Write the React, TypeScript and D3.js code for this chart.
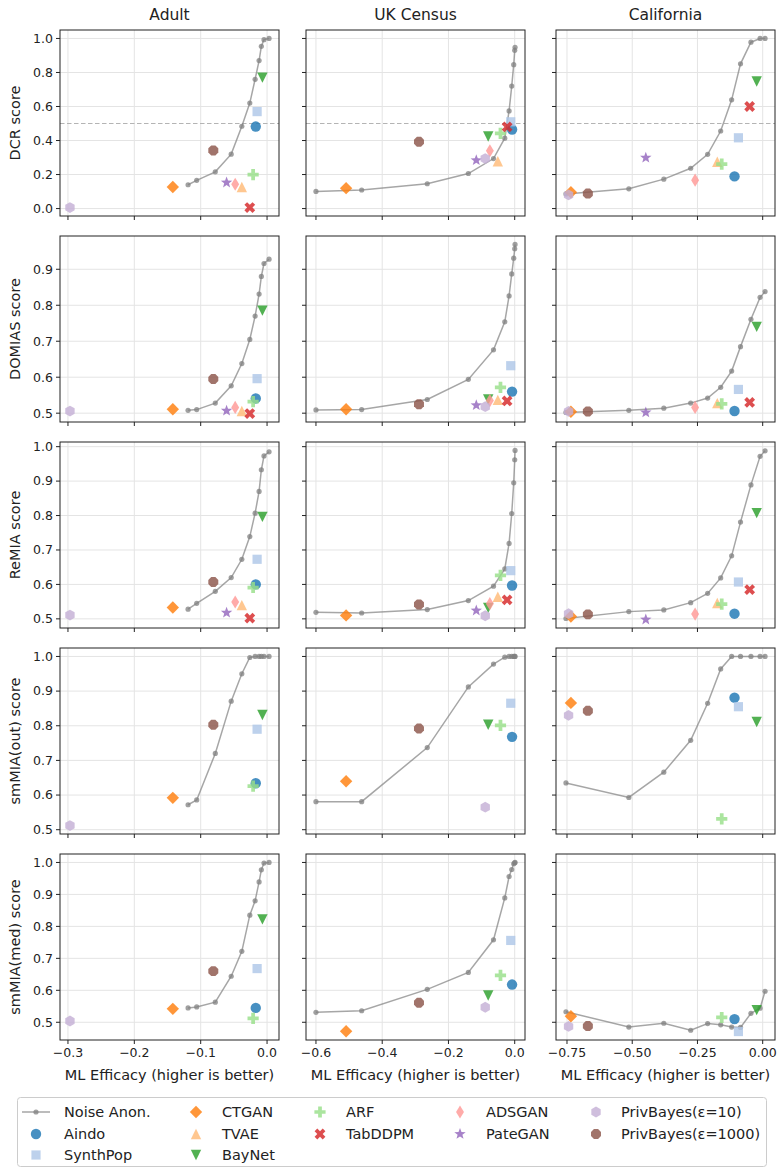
import * as d3 from 'd3';

const DATASETS = ['Adult', 'UK Census', 'California'];
const METRICS = ['DCR score', 'DOMIAS score', 'ReMIA score', 'smMIA(out) score', 'smMIA(med) score'];

const MODELS = ['Aindo', 'SynthPop', 'CTGAN', 'TVAE', 'BayNet', 'ARF', 'TabDDPM', 'ADSGAN', 'PateGAN', 'PrivBayes(ε=10)', 'PrivBayes(ε=1000)'];
const COLORS = ['#1f77b4', '#aec7e8', '#ff7f0e', '#ffbb78', '#2ca02c', '#98df8a', '#d62728', '#ff9896', '#9467bd', '#c5b0d5', '#8c564b'];
const MARKERS = ['o', 's', 'D', '^', 'v', 'P', 'X', 'd', '*', 'h', '8'];

// ML efficacy per model (order of MODELS)
const effAdult = [-0.017, -0.015, -0.142, -0.038, -0.007, -0.021, -0.026, -0.048, -0.061, -0.297, -0.081];
const effUK = [-0.008, -0.012, -0.509, -0.051, -0.080, -0.043, -0.023, -0.075, -0.116, -0.089, -0.289];
const effCal = [-0.108, -0.093, -0.735, -0.174, -0.023, -0.157, -0.050, -0.259, -0.448, -0.744, -0.670];

// ML efficacy along the noise sweep
const noiseEffAdult = [-0.119, -0.106, -0.078, -0.054, -0.038, -0.026, -0.018, -0.012, -0.0086, -0.0046, 0.003];
const noiseEffUK = [-0.600, -0.462, -0.264, -0.140, -0.064, -0.030, -0.017, -0.009, -0.003, 0.0, 0.001];
const noiseEffCal = [-0.754, -0.513, -0.379, -0.276, -0.211, -0.161, -0.119, -0.085, -0.045, -0.010, 0.009];

// DCR
const dcrNoiseAdult = [0.14, 0.166, 0.216, 0.32, 0.484, 0.62, 0.76, 0.87, 0.954, 0.993, 1.0];
const dcrNoiseUK = [0.101, 0.109, 0.146, 0.206, 0.294, 0.414, 0.574, 0.72, 0.846, 0.93, 0.948];
const dcrNoiseCal = [0.086, 0.116, 0.173, 0.237, 0.319, 0.456, 0.639, 0.851, 0.978, 1.0, 1.0];
const dcrAdult = [0.482, 0.570, 0.127, 0.127, 0.770, 0.200, 0.006, 0.143, 0.153, 0.006, 0.342];
const dcrUK = [0.465, 0.510, 0.120, 0.278, 0.424, 0.442, 0.480, 0.340, 0.284, 0.294, 0.393];
const dcrCal = [0.189, 0.416, 0.096, 0.275, 0.747, 0.261, 0.600, 0.167, 0.299, 0.080, 0.088];

// DOMIAS
const domiasNoiseAdult = [0.508, 0.51, 0.528, 0.576, 0.638, 0.705, 0.77, 0.831, 0.88, 0.916, 0.928];
const domiasNoiseUK = [0.509, 0.510, 0.538, 0.594, 0.676, 0.754, 0.826, 0.887, 0.931, 0.957, 0.969];
const domiasNoiseCal = [0.502, 0.508, 0.514, 0.528, 0.542, 0.572, 0.617, 0.685, 0.761, 0.822, 0.838];
const domiasAdult = [0.541, 0.596, 0.511, 0.506, 0.785, 0.532, 0.499, 0.516, 0.507, 0.506, 0.595];
const domiasUK = [0.560, 0.632, 0.511, 0.537, 0.538, 0.572, 0.534, 0.535, 0.522, 0.518, 0.525];
const domiasCal = [0.506, 0.566, 0.504, 0.528, 0.740, 0.526, 0.530, 0.516, 0.502, 0.505, 0.505];

// ReMIA
const remiaNoiseAdult = [0.528, 0.545, 0.58, 0.62, 0.673, 0.739, 0.807, 0.870, 0.933, 0.973, 0.985];
const remiaNoiseUK = [0.519, 0.517, 0.527, 0.553, 0.595, 0.645, 0.719, 0.806, 0.895, 0.962, 0.989];
const remiaNoiseCal = [0.501, 0.521, 0.526, 0.547, 0.574, 0.619, 0.683, 0.781, 0.889, 0.972, 0.988];
const remiaAdult = [0.600, 0.673, 0.533, 0.540, 0.796, 0.591, 0.502, 0.549, 0.518, 0.511, 0.607];
const remiaUK = [0.597, 0.640, 0.510, 0.564, 0.532, 0.626, 0.555, 0.544, 0.524, 0.509, 0.542];
const remiaCal = [0.515, 0.607, 0.507, 0.546, 0.807, 0.543, 0.585, 0.514, 0.498, 0.515, 0.513];

// smMIA(out) -- TVAE, TabDDPM, ADSGAN, PateGAN not evaluated
const outNoiseAdult = [0.572, 0.586, 0.720, 0.871, 0.950, 0.997, 1.0, 1.0, 1.0, 1.0, 1.0];
const outNoiseUK = [0.581, 0.581, 0.737, 0.912, 0.978, 0.998, 1.0, 1.0, 1.0, 1.0, 1.0];
const outNoiseCal = [0.635, 0.593, 0.666, 0.758, 0.865, 0.964, 1.0, 1.0, 1.0, 1.0, 1.0];
const outAdult = [0.634, 0.790, 0.592, null, 0.831, 0.626, null, null, null, 0.512, 0.803];
const outUK = [0.768, 0.865, 0.640, null, 0.803, 0.801, null, null, null, 0.565, 0.792];
const outCal = [0.881, 0.855, 0.866, null, 0.811, 0.531, null, null, null, 0.830, 0.843];

// smMIA(med)
const medNoiseAdult = [0.545, 0.548, 0.563, 0.644, 0.722, 0.835, 0.880, 0.939, 0.977, 0.998, 1.0];
const medNoiseUK = [0.531, 0.536, 0.603, 0.656, 0.758, 0.889, 0.956, 0.978, 0.996, 0.999, 1.0];
const medNoiseCal = [0.533, 0.485, 0.497, 0.475, 0.496, 0.492, 0.485, 0.484, 0.528, 0.544, 0.597];
const medAdult = [0.545, 0.668, 0.542, null, 0.822, 0.512, null, null, null, 0.504, 0.660];
const medUK = [0.618, 0.756, 0.472, null, 0.584, 0.647, null, null, null, 0.547, 0.561];
const medCal = [0.510, 0.471, 0.519, null, 0.538, 0.515, null, null, null, 0.487, 0.488];

const X_TICKS = [[-0.3, -0.2, -0.1, 0.0], [-0.6, -0.4, -0.2, 0.0], [-0.75, -0.5, -0.25, 0.0]];
const X_TICK_DIGITS = [1, 1, 2];
const Y_TICKS = [[0, 0.2, 0.4, 0.6, 0.8, 1.0], [0.5, 0.6, 0.7, 0.8, 0.9], [0.5, 0.6, 0.7, 0.8, 0.9, 1.0], [0.5, 0.6, 0.7, 0.8, 0.9, 1.0], [0.5, 0.6, 0.7, 0.8, 0.9, 1.0]];

const EFF = [effAdult, effUK, effCal];
const NOISE_EFF = [noiseEffAdult, noiseEffUK, noiseEffCal];
const SCORES = [[dcrAdult, dcrUK, dcrCal], [domiasAdult, domiasUK, domiasCal], [remiaAdult, remiaUK, remiaCal], [outAdult, outUK, outCal], [medAdult, medUK, medCal]];
const NOISE_SCORES = [[dcrNoiseAdult, dcrNoiseUK, dcrNoiseCal], [domiasNoiseAdult, domiasNoiseUK, domiasNoiseCal], [remiaNoiseAdult, remiaNoiseUK, remiaNoiseCal], [outNoiseAdult, outNoiseUK, outNoiseCal], [medNoiseAdult, medNoiseUK, medNoiseCal]];

const WIDTH = 783;
const HEIGHT = 1176;
const COL_X = [60, 306, 556];
const PANEL_W = 219;
const ROW_Y0 = 30;
const ROW_STEP = 206;
const PANEL_H = 186;
const FONT = 'DejaVu Sans, sans-serif';
const INK = '#222';
const LABEL_SIZE = 14.5;

const fmtMinus = (v: number, digits: number) => v.toFixed(digits).replace('-', '\u2212');

const poly = (pts: number[][]) => 'M' + pts.map((p) => `${p[0].toFixed(2)},${p[1].toFixed(2)}`).join('L') + 'Z';

const markerPath = (kind: string): string => {
  switch (kind) {
    case 'o':
      return d3.symbol(d3.symbolCircle, Math.PI * 5.2 * 5.2)() || '';
    case 's': {
      const r = 4.6;
      return poly([[-r, -r], [r, -r], [r, r], [-r, r]]);
    }
    case 'D': {
      const r = 6.2;
      return poly([[0, -r], [r, 0], [0, r], [-r, 0]]);
    }
    case '^': {
      const r = 5.2;
      return poly([[0, -r], [r, r], [-r, r]]);
    }
    case 'v': {
      const r = 5.2;
      return poly([[0, r], [r, -r], [-r, -r]]);
    }
    case 'P': {
      const k = 5.6 / 3;
      return poly([[-1, -3], [-1, -1], [-3, -1], [-3, 1], [-1, 1], [-1, 3], [1, 3], [1, 1], [3, 1], [3, -1], [1, -1], [1, -3]].map((p) => [p[0] * k, p[1] * k]));
    }
    case 'X': {
      const k = 5.4 / 2;
      return poly([[-1, -2], [0, -1], [1, -2], [2, -1], [1, 0], [2, 1], [1, 2], [0, 1], [-1, 2], [-2, 1], [-1, 0], [-2, -1]].map((p) => [p[0] * k, p[1] * k]));
    }
    case 'd': {
      const r = 6.6;
      return poly([[0, -r], [r * 0.6, 0], [0, r], [-r * 0.6, 0]]);
    }
    case '*': {
      const pts = d3.range(10).map((i) => {
        const a = -Math.PI / 2 + (i * Math.PI) / 5;
        const rr = i % 2 === 0 ? 6 : 2.5;
        return [rr * Math.cos(a), rr * Math.sin(a)];
      });
      return poly(pts);
    }
    case 'h': {
      const pts = d3.range(6).map((i) => {
        const a = -Math.PI / 2 + (i * Math.PI) / 3;
        return [5.4 * Math.cos(a), 5.4 * Math.sin(a)];
      });
      return poly(pts);
    }
    case '8': {
      const pts = d3.range(8).map((i) => {
        const a = Math.PI / 8 + (i * Math.PI) / 4;
        return [5.4 * Math.cos(a), 5.4 * Math.sin(a)];
      });
      return poly(pts);
    }
  }
  return '';
};

const extentPad = (vals: number[]) => {
  const [lo, hi] = d3.extent(vals) as [number, number];
  const pad = (hi - lo) * 0.05;
  return [lo - pad, hi + pad];
};

const Panel = ({ row, col }: { row: number; col: number }) => {
  const x0 = COL_X[col];
  const y0 = ROW_Y0 + row * ROW_STEP;

  const colVals = d3.merge([EFF[col], NOISE_EFF[col]]);
  const xScale = d3.scaleLinear().domain(extentPad(colVals)).range([0, PANEL_W]);

  const rowVals = d3.merge(
    [0, 1, 2].map((c) => [...NOISE_SCORES[row][c], ...(SCORES[row][c].filter((v) => v !== null) as number[])])
  );
  const yScale = d3.scaleLinear().domain(extentPad(rowVals)).range([PANEL_H, 0]);

  const noiseX = NOISE_EFF[col];
  const noiseY = NOISE_SCORES[row][col];
  const line = d3
    .line<number>()
    .x((_, i) => xScale(noiseX[i]))
    .y((d) => yScale(d));

  const scores = SCORES[row][col];
  const eff = EFF[col];

  return (
    <g transform={`translate(${x0},${y0})`}>
      {X_TICKS[col].map((t) => (
        <line key={`gx${t}`} x1={xScale(t)} x2={xScale(t)} y1={0} y2={PANEL_H} stroke="#e4e4e4" strokeWidth={1} />
      ))}
      {Y_TICKS[row].map((t) => (
        <line key={`gy${t}`} x1={0} x2={PANEL_W} y1={yScale(t)} y2={yScale(t)} stroke="#e4e4e4" strokeWidth={1} />
      ))}
      {row === 0 && (
        <line x1={0} x2={PANEL_W} y1={yScale(0.5)} y2={yScale(0.5)} stroke="#b4b4b4" strokeWidth={1.2} strokeDasharray="4.5,2.5" />
      )}
      <path d={line(noiseY) || ''} fill="none" stroke="gray" strokeOpacity={0.7} strokeWidth={1.5} />
      {noiseY.map((v, i) => (
        <circle key={`n${i}`} cx={xScale(noiseX[i])} cy={yScale(v)} r={2.6} fill="gray" fillOpacity={0.75} />
      ))}
      {scores.map((v, i) =>
        v === null ? null : (
          <path
            key={`m${i}`}
            d={markerPath(MARKERS[i])}
            transform={`translate(${xScale(eff[i])},${yScale(v)})`}
            fill={COLORS[i]}
            fillOpacity={0.82}
          />
        )
      )}
      <rect x={0} y={0} width={PANEL_W} height={PANEL_H} fill="none" stroke={INK} strokeWidth={1} />
      {X_TICKS[col].map((t) => (
        <g key={`tx${t}`}>
          <line x1={xScale(t)} x2={xScale(t)} y1={PANEL_H} y2={PANEL_H + 4} stroke={INK} strokeWidth={1} />
          {row === METRICS.length - 1 && (
            <text x={xScale(t)} y={PANEL_H + 17} textAnchor="middle" fontSize={12.5} fill={INK}>
              {fmtMinus(t, X_TICK_DIGITS[col])}
            </text>
          )}
        </g>
      ))}
      {Y_TICKS[row].map((t) => (
        <g key={`ty${t}`}>
          <line x1={-4} x2={0} y1={yScale(t)} y2={yScale(t)} stroke={INK} strokeWidth={1} />
          {col === 0 && (
            <text x={-7} y={yScale(t)} dy="0.35em" textAnchor="end" fontSize={12.5} fill={INK}>
              {t.toFixed(1)}
            </text>
          )}
        </g>
      ))}
      {row === 0 && (
        <text x={PANEL_W / 2} y={-10} textAnchor="middle" fontSize={15.5} fill={INK}>
          {DATASETS[col]}
        </text>
      )}
      {row === METRICS.length - 1 && (
        <text x={PANEL_W / 2} y={PANEL_H + 40} textAnchor="middle" fontSize={LABEL_SIZE} fill={INK}>
          ML Efficacy (higher is better)
        </text>
      )}
      {col === 0 && (
        <text transform={`translate(${-40},${PANEL_H / 2}) rotate(-90)`} textAnchor="middle" fontSize={LABEL_SIZE} fill={INK}>
          {METRICS[row]}
        </text>
      )}
    </g>
  );
};

const LEGEND_COLS = [[-1, 0, 1], [2, 3, 4], [5, 6], [7, 8], [9, 10]];
const LEGEND_HANDLE_X = [36, 196, 320, 460, 596];
const LEGEND_TEXT_X = [64, 222, 346, 486, 621];
const LEGEND_ROW_Y = [1112, 1134, 1155];

const Legend = () => (
  <g>
    <rect x={17.5} y={1097.5} width={749} height={69} rx={3} fill="white" stroke="#cccccc" strokeWidth={1} />
    {LEGEND_COLS.map((items, c) =>
      items.map((m, r) => {
        const hx = LEGEND_HANDLE_X[c];
        const y = LEGEND_ROW_Y[r];
        return (
          <g key={`lg${c}-${r}`}>
            {m < 0 ? (
              <g>
                <line x1={hx - 14} x2={hx + 14} y1={y} y2={y} stroke="gray" strokeOpacity={0.7} strokeWidth={1.5} />
                <circle cx={hx} cy={y} r={2.6} fill="gray" fillOpacity={0.75} />
              </g>
            ) : (
              <path d={markerPath(MARKERS[m])} transform={`translate(${hx},${y})`} fill={COLORS[m]} fillOpacity={0.82} />
            )}
            <text x={LEGEND_TEXT_X[c]} y={y} dy="0.35em" fontSize={LABEL_SIZE} fill={INK}>
              {m < 0 ? 'Noise Anon.' : MODELS[m]}
            </text>
          </g>
        );
      })
    )}
  </g>
);

export default function App() {
  return (
    <svg
      width={WIDTH}
      height={HEIGHT}
      style={{ position: 'absolute', left: 0, top: 0, background: 'white' }}
      fontFamily={FONT}
    >
      <rect width={WIDTH} height={HEIGHT} fill="white" />
      {METRICS.map((_, r) => DATASETS.map((_, c) => <Panel key={`p${r}-${c}`} row={r} col={c} />))}
      <Legend />
    </svg>
  );
}
